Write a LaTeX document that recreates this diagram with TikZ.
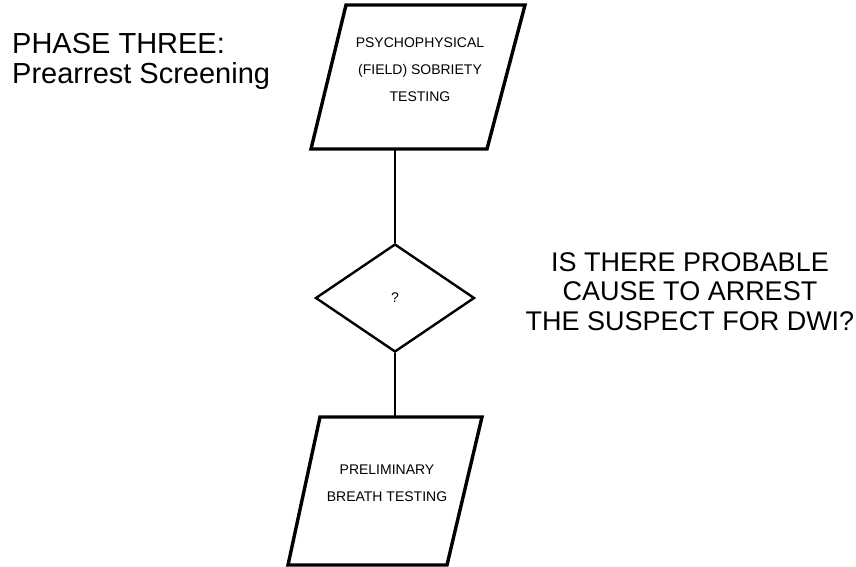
\documentclass[tikz,border=0pt]{standalone}
\usepackage{fontspec}
\setmainfont{Liberation Sans}
\usetikzlibrary{shapes.geometric}
\begin{document}
\begin{tikzpicture}[
  x=1pt, y=-1pt,
  every node/.style={inner sep=0pt, align=center},
  iobox/.style={draw, line width=3.4pt, line join=miter},
  boxtext/.style={font=\fontsize{14}{27}\selectfont},
  decision/.style={diamond, draw, line width=2.4pt, minimum width=159pt,
    minimum height=108pt, font=\fontsize{14}{16}\selectfont},
  caption/.style={font=\fontsize{27}{29.5}\selectfont},
  link/.style={draw, line width=1.3pt}
]
\useasboundingbox (0,0) rectangle (856,567);
\node[caption, font=\fontsize{29}{30}\selectfont, anchor=north west, align=left] (phase) at (12,33)
  {PHASE THREE:\\Prearrest Screening};
% input boxes
\draw[iobox] (346,5) -- (525,5) -- (487,149) -- (311,149) -- cycle;
\coordinate (psych-out) at (395,149);
\node[boxtext] (psych) at (420,70) {PSYCHOPHYSICAL\\(FIELD) SOBRIETY\\TESTING};
\draw[iobox] (320,417) -- (482,417) -- (447,565) -- (288,565) -- cycle;
\coordinate (breath-in) at (395,417);
\node[boxtext] (breath) at (387,483) {PRELIMINARY\\BREATH TESTING};
% decision
\node[decision] (decide) at (395,298) {?};
\node[caption, anchor=north] (question) at (690,252)
  {IS THERE PROBABLE\\CAUSE TO ARREST\\THE SUSPECT FOR DWI?};
\draw[link] (psych-out) -- (decide.north);
\draw[link] (decide.south) -- (breath-in);
\end{tikzpicture}
\end{document}
